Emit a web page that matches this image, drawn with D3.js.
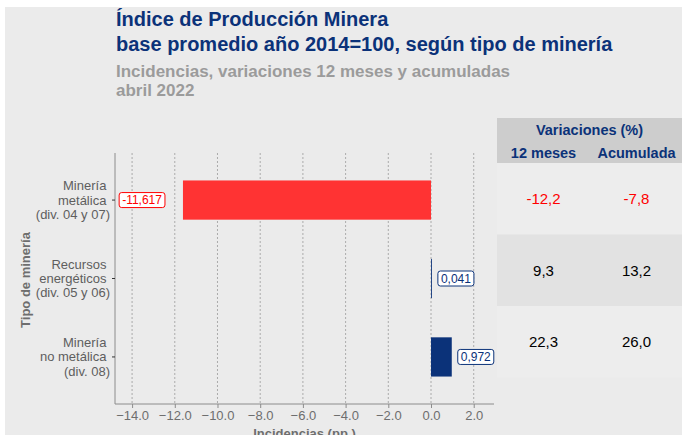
<!DOCTYPE html>
<html><head><meta charset="utf-8">
<script src="https://cdn.jsdelivr.net/npm/d3@7"></script>
<style>
html,body{margin:0;padding:0;background:#fff;}
svg{display:block;font-family:"Liberation Sans",Arial,sans-serif;}
</style></head>
<body>
<svg id="chart" width="682" height="435"></svg>
<script>
const categories = ["Minería |metálica |(div. 04 y 07)", "Recursos |energéticos |(div. 05 y 06)", "Minería |no metálica |(div. 08)"];
const incidencias = [-11.617, 0.041, 0.972];
const var12 = [-12.2, 9.3, 22.3];
const varAcum = [-7.8, 13.2, 26.0];
const xTicks = [-14, -12, -10, -8, -6, -4, -2, 0, 2];
const titleLines = ["Índice de Producción Minera", "base promedio año 2014=100, según tipo de minería"];
const subtitleLines = ["Incidencias, variaciones 12 meses y acumuladas", "abril 2022"];
const tableHeader = "Variaciones (%)";
const tableCols = ["12 meses", "Acumulada"];

const NAVY = "#0b3279", RED = "#ff3333", REDTXT = "#ff0000";
const svg = d3.select("#chart");
const fmt = (v, d) => v.toFixed(d).replace(".", ",");

// background
svg.append("rect").attr("x", 5).attr("y", 7).attr("width", 677).attr("height", 428).attr("fill", "#ebebeb");

// titles
const tg = svg.append("g");
titleLines.forEach((t, i) => tg.append("text").attr("x", 116).attr("y", 26 + i * 25)
  .attr("font-size", 20).attr("font-weight", "bold").attr("fill", NAVY).text(t));
subtitleLines.forEach((t, i) => tg.append("text").attr("x", 116).attr("y", 77 + i * 19)
  .attr("font-size", 17).attr("font-weight", "bold").attr("fill", "#9b9b9b").text(t));

// scales
const x = d3.scaleLinear().domain([-14.8, 2.95]).range([115, 494]);
const y = d3.scaleBand().domain(categories).range([153, 404]).paddingInner(0.5).paddingOuter(0.35);

// grid
svg.append("g").selectAll("line").data(xTicks).join("line")
  .attr("x1", d => x(d)).attr("x2", d => x(d)).attr("y1", 153).attr("y2", 404)
  .attr("stroke", "#9a9a9a").attr("stroke-width", 0.8).attr("stroke-dasharray", "2,2");

// bars
svg.append("g").selectAll("rect").data(incidencias).join("rect")
  .attr("x", d => x(Math.min(0, d))).attr("width", d => Math.abs(x(d) - x(0)))
  .attr("y", (d, i) => y(categories[i])).attr("height", y.bandwidth())
  .attr("fill", d => d < 0 ? RED : NAVY);

// x axis
const xa = svg.append("g").attr("transform", "translate(0,404)")
  .call(d3.axisBottom(x).tickValues(xTicks).tickFormat(d3.format(".1f")).tickSize(4).tickPadding(3));
xa.select(".domain").attr("stroke", "#8c8c8c").attr("d", "M115,0H494");
xa.selectAll(".tick line").attr("stroke", "#8c8c8c");
xa.selectAll("text").attr("font-size", 13).attr("fill", "#6e6e6e").attr("font-family", "Liberation Sans, Arial, sans-serif");

// y axis
const ya = svg.append("g").attr("transform", "translate(115,0)")
  .call(d3.axisLeft(y).tickSize(3).tickFormat(""));
ya.select(".domain").attr("stroke", "#8c8c8c").attr("d", "M0,153V404");
ya.selectAll(".tick line").attr("stroke", "#333");
categories.forEach(c => {
  const lines = c.split("|");
  const t = svg.append("text").attr("text-anchor", "end").attr("font-size", 13).attr("fill", "#5e5e5e")
    .style("white-space", "pre");
  lines.forEach((l, j) => t.append("tspan").attr("x", 110)
    .attr("y", y(c) + y.bandwidth() / 2 + (j - 1) * 14.3 + 4.5).text(l));
});

// axis titles
svg.append("text").attr("x", 304.5).attr("y", 438).attr("text-anchor", "middle")
  .attr("font-size", 13).attr("font-weight", "bold").attr("fill", "#6e6e6e").text("Incidencias (pp.)");
svg.append("text").attr("transform", "translate(30,280) rotate(-90)").attr("text-anchor", "middle")
  .attr("font-size", 13).attr("font-weight", "bold").attr("fill", "#6e6e6e").text("Tipo de minería");

// value labels
incidencias.forEach((v, i) => {
  const col = v < 0 ? REDTXT : NAVY;
  const cy = y(categories[i]) + y.bandwidth() / 2;
  const g = svg.append("g");
  const t = g.append("text").attr("font-size", 12).attr("fill", col).attr("y", cy + 4.3).text(fmt(v, 3));
  const w = t.node().getComputedTextLength();
  const bw = w + 6, bh = 15;
  const bx = v < 0 ? x(v) - 18 - bw : x(v) + 6;
  t.attr("x", bx + bw / 2).attr("text-anchor", "middle");
  g.insert("rect", "text").attr("x", bx).attr("y", cy - bh / 2).attr("width", bw).attr("height", bh)
    .attr("rx", 2.5).attr("fill", "#fff").attr("stroke", col).attr("stroke-width", 1);
});

// table
const tx0 = 497, tx1 = 682, colX = [543.5, 636.5];
const rowTop = 163, rowH = 71.5;
svg.append("rect").attr("x", tx0).attr("y", 118).attr("width", tx1 - tx0).attr("height", 45).attr("fill", "#cdcdcd");
svg.append("rect").attr("x", tx0).attr("y", rowTop).attr("width", tx1 - tx0).attr("height", rowH * 3).attr("fill", "#ededed");
svg.append("rect").attr("x", tx0).attr("y", rowTop + rowH).attr("width", tx1 - tx0).attr("height", rowH).attr("fill", "#e2e2e2");
svg.append("text").attr("x", 589.5).attr("y", 135).attr("text-anchor", "middle").attr("font-size", 14.5)
  .attr("font-weight", "bold").attr("fill", NAVY).text(tableHeader);
tableCols.forEach((c, j) => svg.append("text").attr("x", colX[j]).attr("y", 158).attr("text-anchor", "middle")
  .attr("font-size", 14.5).attr("font-weight", "bold").attr("fill", NAVY).text(c));
[var12, varAcum].forEach((arr, j) => arr.forEach((v, i) => {
  svg.append("text").attr("x", colX[j]).attr("y", rowTop + rowH * i + rowH / 2 + 5.5)
    .attr("text-anchor", "middle").attr("font-size", 15).attr("fill", v < 0 ? REDTXT : "#000").text(fmt(v, 1));
}));
</script>
</body></html>
